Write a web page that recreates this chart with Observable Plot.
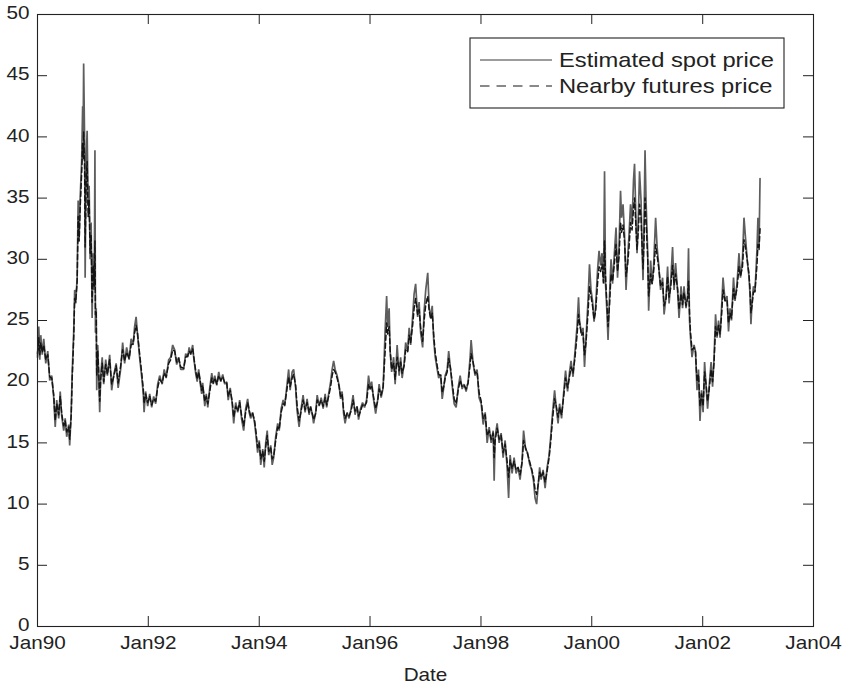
<!DOCTYPE html>
<html>
<head>
<meta charset="utf-8">
<script src="https://cdn.jsdelivr.net/npm/d3@7"></script>
<script src="https://cdn.jsdelivr.net/npm/@observablehq/plot@0.6"></script>
<style>
  html, body { margin: 0; padding: 0; background: #fff; }
  #chart { width: 844px; height: 688px; }
</style>
</head>
<body>
<div id="chart"></div>
<script>
// ---- Data (decimal years, $ per barrel) ----
const years = [
1990.000,1990.023,1990.041,1990.059,1990.086,1990.113,1990.149,1990.185,1990.221,1990.257,
1990.293,1990.320,1990.347,1990.383,1990.410,1990.437,1990.473,1990.500,1990.527,1990.563,
1990.581,1990.608,1990.626,1990.653,1990.671,1990.689,1990.716,1990.734,1990.752,1990.770,
1990.797,1990.815,1990.824,1990.833,1990.851,1990.860,1990.878,1990.896,1990.914,1990.932,
1990.950,1990.968,1990.986,1991.006,1991.024,1991.037,1991.046,1991.060,1991.069,1991.087,
1991.105,1991.123,1991.141,1991.168,1991.195,1991.231,1991.262,1991.303,1991.339,1991.375,
1991.420,1991.456,1991.501,1991.537,1991.573,1991.609,1991.654,1991.690,1991.726,1991.753,
1991.780,1991.807,1991.843,1991.879,1991.910,1991.924,1991.951,1991.989,1992.025,1992.061,
1992.097,1992.133,1992.169,1992.205,1992.250,1992.286,1992.322,1992.367,1992.403,1992.439,
1992.475,1992.511,1992.547,1992.583,1992.637,1992.673,1992.709,1992.736,1992.763,1992.799,
1992.817,1992.853,1992.880,1992.907,1992.934,1992.961,1992.979,1993.017,1993.044,1993.071,
1993.107,1993.143,1993.170,1993.197,1993.233,1993.269,1993.305,1993.341,1993.377,1993.413,
1993.440,1993.476,1993.512,1993.539,1993.575,1993.611,1993.647,1993.683,1993.719,1993.755,
1993.791,1993.818,1993.845,1993.881,1993.917,1993.944,1993.971,1994.000,1994.027,1994.063,
1994.090,1994.117,1994.144,1994.171,1994.207,1994.234,1994.261,1994.297,1994.333,1994.360,
1994.396,1994.432,1994.459,1994.495,1994.531,1994.558,1994.594,1994.621,1994.657,1994.684,
1994.720,1994.756,1994.792,1994.828,1994.864,1994.900,1994.927,1994.963,1994.981,1995.019,
1995.046,1995.082,1995.118,1995.154,1995.190,1995.217,1995.253,1995.289,1995.316,1995.343,
1995.370,1995.406,1995.442,1995.469,1995.496,1995.523,1995.550,1995.586,1995.622,1995.658,
1995.694,1995.730,1995.766,1995.793,1995.829,1995.865,1995.901,1995.937,1995.973,1996.002,
1996.029,1996.065,1996.101,1996.137,1996.164,1996.200,1996.236,1996.272,1996.299,1996.317,
1996.344,1996.362,1996.389,1996.425,1996.452,1996.488,1996.524,1996.551,1996.578,1996.614,
1996.641,1996.677,1996.704,1996.731,1996.767,1996.794,1996.821,1996.857,1996.884,1996.911,
1996.947,1996.974,1997.003,1997.039,1997.066,1997.093,1997.120,1997.147,1997.174,1997.210,
1997.237,1997.273,1997.300,1997.327,1997.354,1997.390,1997.417,1997.453,1997.489,1997.516,
1997.552,1997.588,1997.624,1997.660,1997.696,1997.732,1997.768,1997.804,1997.822,1997.858,
1997.894,1997.930,1997.966,1998.004,1998.040,1998.076,1998.112,1998.148,1998.184,1998.220,
1998.238,1998.256,1998.292,1998.328,1998.364,1998.400,1998.436,1998.472,1998.499,1998.526,
1998.562,1998.598,1998.634,1998.670,1998.706,1998.742,1998.769,1998.805,1998.841,1998.877,
1998.913,1998.949,1998.976,1999.005,1999.032,1999.059,1999.086,1999.122,1999.158,1999.194,
1999.230,1999.257,1999.293,1999.329,1999.356,1999.392,1999.419,1999.455,1999.491,1999.527,
1999.563,1999.599,1999.626,1999.662,1999.698,1999.734,1999.761,1999.779,1999.815,1999.842,
1999.869,1999.896,1999.932,1999.959,1999.986,2000.014,2000.041,2000.068,2000.104,2000.131,
2000.158,2000.185,2000.212,2000.230,2000.248,2000.275,2000.293,2000.320,2000.347,2000.374,
2000.410,2000.437,2000.464,2000.491,2000.518,2000.536,2000.563,2000.590,2000.617,2000.644,
2000.671,2000.698,2000.725,2000.752,2000.770,2000.797,2000.815,2000.842,2000.860,2000.887,
2000.905,2000.923,2000.941,2000.959,2000.977,2001.006,2001.024,2001.060,2001.087,2001.114,
2001.150,2001.177,2001.204,2001.240,2001.276,2001.303,2001.339,2001.366,2001.393,2001.420,
2001.456,2001.483,2001.510,2001.546,2001.573,2001.609,2001.636,2001.663,2001.699,2001.726,
2001.744,2001.762,2001.780,2001.807,2001.843,2001.870,2001.897,2001.924,2001.951,2001.978,
2002.007,2002.034,2002.061,2002.088,2002.115,2002.151,2002.178,2002.205,2002.232,2002.259,
2002.286,2002.313,2002.340,2002.367,2002.403,2002.439,2002.466,2002.493,2002.520,2002.556,
2002.583,2002.619,2002.655,2002.682,2002.718,2002.745,2002.772,2002.808,2002.835,2002.853,
2002.871,2002.889,2002.916,2002.943,2002.979,2002.997,2003.017,2003.035
];

const spotPrice = [
22.0,24.5,21.8,23.8,22.2,23.5,21.5,22.5,20.1,20.5,
18.7,16.3,18.5,17.0,19.2,17.2,16.0,17.0,15.5,16.5,
14.8,17.5,20.7,24.0,27.5,26.4,28.5,34.8,31.8,35.0,
38.0,42.5,40.0,46.0,39.5,28.5,38.0,40.5,34.5,36.0,
30.0,33.0,25.2,30.5,27.5,38.9,24.0,26.0,19.3,23.0,
20.5,17.5,20.5,22.0,19.8,21.8,20.5,22.2,19.3,20.5,
21.5,19.5,21.0,23.2,21.5,22.8,21.8,23.5,23.0,24.5,
25.3,23.8,22.0,20.5,19.0,17.5,19.2,18.0,19.0,17.9,
18.8,18.2,19.8,20.5,19.8,21.0,20.3,21.8,22.0,23.0,
22.6,21.4,22.0,21.0,21.0,22.3,22.0,22.8,22.2,23.0,
22.0,20.7,20.0,21.0,19.9,19.0,19.9,18.0,19.0,17.9,
19.5,20.7,19.8,20.5,19.7,20.8,20.0,20.6,19.8,20.0,
18.5,19.5,18.2,16.6,18.3,17.5,18.5,16.9,16.0,17.8,
18.6,17.5,17.0,17.5,16.6,15.5,14.2,15.2,13.2,14.5,
13.0,15.0,16.0,14.0,14.8,13.2,13.8,15.5,16.6,16.0,
17.8,18.5,18.0,19.5,21.0,19.3,20.8,21.0,19.5,17.6,
16.3,17.8,18.9,17.5,18.6,17.3,18.0,17.2,16.6,17.5,
18.9,18.0,18.7,17.8,19.0,17.9,19.0,20.0,21.0,21.7,
21.0,20.5,19.7,18.6,19.2,17.4,16.6,17.5,17.0,17.8,
18.9,17.3,18.0,16.9,17.8,18.3,17.9,18.5,20.5,19.5,
20.0,18.5,17.4,18.5,19.8,18.7,19.5,24.2,27.0,24.5,
26.0,22.5,20.8,22.0,19.8,23.0,20.5,22.0,20.3,21.5,
23.2,22.5,24.4,23.0,25.3,27.2,28.0,25.3,26.5,24.0,
22.8,25.8,27.5,28.9,26.0,25.3,26.2,23.4,22.0,21.0,
20.3,20.6,18.6,19.5,20.5,21.0,22.5,20.9,19.3,18.2,
17.9,19.5,20.5,19.4,19.8,19.2,20.0,22.0,23.4,21.5,
20.5,21.0,18.7,18.2,16.5,17.5,15.0,16.3,15.0,16.0,
11.9,15.5,16.6,15.0,15.8,13.8,15.2,13.0,10.5,14.0,
12.5,13.8,12.5,13.0,12.0,13.5,16.0,14.5,14.2,13.3,
12.8,11.9,10.5,10.0,11.5,13.0,12.0,12.8,11.3,13.0,
14.0,15.4,17.5,19.3,18.0,16.6,18.2,17.0,19.0,20.9,
19.2,20.8,21.7,20.4,22.5,24.5,26.9,25.0,23.9,24.4,
21.2,23.5,26.6,29.6,27.5,26.6,24.9,26.0,29.1,30.7,
29.5,30.5,28.0,37.2,28.0,25.5,23.4,27.0,30.0,28.0,
30.7,32.6,28.5,31.0,35.6,33.4,34.5,32.0,27.5,30.0,
32.0,34.5,32.9,36.5,37.8,33.0,30.5,34.0,37.2,34.8,
31.0,28.3,33.0,38.9,34.8,30.7,25.8,29.9,28.0,29.5,
33.4,31.0,29.6,27.5,28.5,25.5,27.0,29.4,26.4,28.0,
31.0,27.5,29.7,27.5,25.2,27.8,26.0,27.8,26.0,27.0,
30.9,25.0,23.6,22.0,23.0,22.5,19.3,21.0,16.8,19.3,
17.5,21.6,19.6,17.8,19.5,21.6,19.6,22.0,25.5,23.6,
25.0,23.6,26.0,28.5,26.6,27.0,24.1,26.0,25.0,28.5,
26.6,28.0,30.5,28.5,30.0,33.4,31.8,29.7,28.6,27.2,
24.7,26.5,27.8,27.3,30.7,33.4,31.0,36.6
];

const futuresPrice = [
22.3,23.6,22.2,23.2,22.4,23.0,21.8,22.2,20.4,20.3,
18.9,16.8,18.2,17.3,18.8,17.4,16.4,16.8,15.9,16.3,
15.3,17.2,20.2,23.5,26.8,26.5,28.2,33.5,31.5,34.2,
37.0,39.5,38.2,40.4,37.5,31.0,36.5,38.0,33.5,34.8,
30.5,32.0,26.5,29.5,27.8,31.5,25.5,25.8,20.5,22.5,
20.8,18.4,20.2,21.5,20.0,21.4,20.6,21.8,19.8,20.4,
21.3,19.9,21.3,22.6,21.7,22.4,21.9,23.0,23.1,24.0,
24.6,23.9,22.3,20.8,19.4,18.2,19.0,18.3,18.8,18.1,
18.6,18.4,19.5,20.2,19.9,20.7,20.4,21.5,21.8,22.6,
22.5,21.6,21.9,21.2,21.1,22.0,22.1,22.5,22.3,22.7,
22.1,20.9,20.2,20.8,20.1,19.3,19.7,18.4,18.8,18.2,
19.2,20.3,19.9,20.3,19.8,20.5,20.1,20.4,19.9,19.9,
18.8,19.3,18.4,17.1,18.0,17.6,18.3,17.2,16.4,17.5,
18.3,17.7,17.2,17.4,16.8,15.8,14.6,15.0,13.7,14.3,
13.5,14.7,15.6,14.3,14.6,13.7,13.9,15.2,16.3,16.1,
17.5,18.2,18.1,19.2,20.4,19.6,20.3,20.6,19.7,18.0,
16.8,17.6,18.5,17.7,18.3,17.5,17.9,17.3,16.9,17.4,
18.5,18.1,18.5,18.0,18.7,18.1,18.8,19.6,20.5,21.0,
20.8,20.3,19.6,18.8,19.0,17.7,17.0,17.4,17.2,17.6,
18.5,17.6,17.9,17.2,17.6,18.1,18.0,18.3,19.8,19.4,
19.7,18.7,17.8,18.4,19.4,18.9,19.6,22.5,24.8,23.9,
24.5,22.6,21.0,21.5,20.2,22.0,20.9,21.6,20.7,21.3,
22.6,22.4,23.8,23.2,24.6,26.0,26.8,25.5,25.9,24.4,
23.3,25.0,26.3,27.0,25.8,25.1,25.6,23.8,22.4,21.3,
20.6,20.5,19.1,19.6,20.3,20.8,21.9,21.0,19.6,18.6,
18.2,19.3,20.1,19.6,19.7,19.4,19.9,21.4,22.3,21.6,
20.7,20.8,19.1,18.4,17.0,17.3,15.6,16.0,15.3,15.8,
13.8,15.2,16.2,15.3,15.6,14.2,14.9,13.5,12.2,13.6,
12.9,13.5,12.8,13.0,12.4,13.4,15.2,14.6,14.1,13.5,
12.9,12.2,11.2,10.8,11.6,12.6,12.2,12.6,11.8,12.7,
13.8,15.0,17.0,18.6,18.1,17.1,17.9,17.3,18.7,20.3,
19.5,20.4,21.2,20.7,22.0,23.8,25.5,24.8,23.8,24.0,
22.2,23.2,25.6,27.8,27.0,26.2,25.1,25.7,28.0,29.4,
29.0,29.6,28.1,31.5,28.5,26.2,24.5,26.3,28.8,28.2,
29.8,31.2,29.0,30.2,33.0,32.2,32.8,31.5,28.6,29.5,
31.0,33.0,32.4,34.2,35.0,32.5,30.8,32.6,34.5,33.4,
31.2,29.2,31.5,35.0,33.2,30.2,27.0,28.8,28.0,29.0,
31.2,30.3,29.4,27.8,28.1,26.2,26.8,28.6,26.9,27.6,
29.5,27.9,28.8,27.6,25.9,27.2,26.3,27.3,26.2,26.8,
28.2,25.6,24.0,22.6,22.8,22.4,20.0,20.6,18.0,19.0,
18.0,20.8,19.8,18.4,19.3,21.0,20.0,21.6,24.5,23.8,
24.6,23.9,25.4,27.5,26.6,26.7,24.8,25.6,25.2,27.6,
26.8,27.6,29.4,28.6,29.4,31.6,31.0,29.8,28.8,27.6,
25.6,26.2,27.3,27.4,29.5,31.2,30.8,32.5
];

const xTickYears = [1990, 1992, 1994, 1996, 1998, 2000, 2002, 2004];
const xTickLabels = ["Jan90", "Jan92", "Jan94", "Jan96", "Jan98", "Jan00", "Jan02", "Jan04"];
const yTicks = [0, 5, 10, 15, 20, 25, 30, 35, 40, 45, 50];
const seriesNames = ["Estimated spot price", "Nearby futures price"];
const xLabel = "Date";

// ---- Build table ----
function yearToDate(y) {
  const yr = Math.floor(y);
  const a = Date.UTC(yr, 0, 1), b = Date.UTC(yr + 1, 0, 1);
  return new Date(a + (y - yr) * (b - a));
}
const n = Math.min(years.length, spotPrice.length, futuresPrice.length);
const rows = [];
for (let i = 0; i < n; i++) rows.push({date: yearToDate(years[i]), spot: spotPrice[i], fut: futuresPrice[i]});
const xTickDates = xTickYears.map(y => new Date(Date.UTC(y, 0, 1)));
const labelOf = d => xTickLabels[xTickYears.indexOf(d.getUTCFullYear())];

const W = 844, H = 688;
const mL = 37, mR = 31, mT = 14, mB = 62;
const fw = W - mL - mR, fh = H - mT - mB;
const tick = 10;
const ink = "#222";

const chart = Plot.plot({
  width: W, height: H,
  marginLeft: mL, marginRight: mR, marginTop: mT, marginBottom: mB,
  style: {fontFamily: "'Liberation Sans', Arial, Helvetica, sans-serif", fontSize: "18px", color: ink, background: "#fff", overflow: "visible"},
  x: {type: "utc", domain: [xTickDates[0], xTickDates[xTickDates.length - 1]], label: null},
  y: {domain: [0, 50], label: null},
  marks: [
    Plot.line(rows, {x: "date", y: "spot", stroke: "#5e5e5e", strokeWidth: 1.7, strokeLinejoin: "miter"}),
    Plot.line(rows, {x: "date", y: "fut", stroke: "#151515", strokeWidth: 1.5, strokeDasharray: "5,3"}),
    Plot.frame({stroke: ink, strokeWidth: 1.1}),
    Plot.tickX(xTickDates, {x: d => d, insetTop: fh - tick, stroke: ink}),
    Plot.tickX(xTickDates, {x: d => d, insetBottom: fh - tick, stroke: ink}),
    Plot.tickY(yTicks, {y: d => d, insetRight: fw - tick, stroke: ink}),
    Plot.tickY(yTicks, {y: d => d, insetLeft: fw - tick, stroke: ink}),
    Plot.axisX({ticks: xTickDates, tickSize: 0, tickPadding: 10, tickFormat: labelOf, label: null}),
    Plot.axisY({ticks: yTicks, tickSize: 0, tickPadding: 8, dy: -1, label: null}),
    Plot.text([xLabel], {frameAnchor: "bottom", dy: 54, text: d => d, fill: ink})
  ]
});

const svg = d3.select(chart);

// ---- Legend ----
const lg = svg.append("g").attr("class", "legend");
const lx = 470, ly = 38, lw = 314, lh = 70;
lg.append("rect").attr("x", lx).attr("y", ly).attr("width", lw).attr("height", lh)
  .attr("fill", "#fff").attr("stroke", ink).attr("stroke-width", 1.1);
const entries = [
  {name: seriesNames[0], stroke: "#3a3a3a", dash: null, y: ly + 22},
  {name: seriesNames[1], stroke: "#151515", dash: "9.5,7", y: ly + 48}
];
entries.forEach(e => {
  const l = lg.append("line").attr("x1", lx + 10).attr("x2", lx + 82).attr("y1", e.y).attr("y2", e.y)
    .attr("stroke", e.stroke).attr("stroke-width", 1.1);
  if (e.dash) l.attr("stroke-dasharray", e.dash);
  lg.append("text").attr("x", lx + 89).attr("y", e.y).attr("dy", "0.35em")
    .attr("text-anchor", "start")
    .attr("fill", ink).attr("font-size", 21).text(e.name).attr("data-sx", 1.13);
});

// ---- Widen glyphs horizontally to match the reference's font ----
svg.selectAll("text").each(function() {
  if (this.querySelector("tspan")) return;
  const sx = +(this.getAttribute("data-sx") || 1.15);
  const t = this.getAttribute("transform") || "";
  this.setAttribute("transform", `${t} scale(${sx},1)`);
  const xa = this.getAttribute("x");
  if (xa !== null && isFinite(+xa)) this.setAttribute("x", (+xa) / sx);
});

document.getElementById("chart").appendChild(chart);
</script>
</body>
</html>
